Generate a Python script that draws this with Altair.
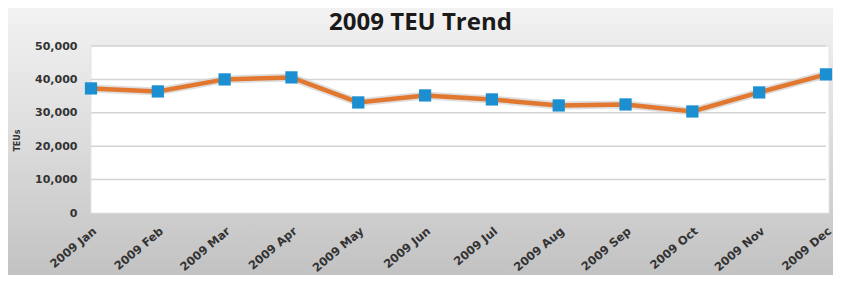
import altair as alt
import pandas as pd

months = ["2009 Jan", "2009 Feb", "2009 Mar", "2009 Apr", "2009 May", "2009 Jun",
          "2009 Jul", "2009 Aug", "2009 Sep", "2009 Oct", "2009 Nov", "2009 Dec"]
teu = [37300, 36400, 40000, 40600, 33100, 35200, 34000, 32200, 32500, 30400, 36100, 41500]
y_ticks = [0, 10000, 20000, 30000, 40000, 50000]

W, H = 735, 167
PL, PT, PR, PB = 83, 38, 7, 62

df = pd.DataFrame({"month": months, "teu": teu})
grid_df = pd.DataFrame({"teu": y_ticks[1:]})

x_axis = alt.Axis(title=None, labelAngle=-40, labelAlign="right",
                  labelBaseline="top", labelPadding=12,
                  labelFont="DejaVu Sans", labelFontWeight="bold",
                  labelFontSize=11.5, labelColor="#333333",
                  ticks=False, domain=False, grid=False, zindex=1)
y_axis = alt.Axis(title="TEUs", values=y_ticks,
                  labelExpr="format(datum.value, ',.0f')",
                  labelFont="DejaVu Sans", labelFontWeight="bold",
                  labelFontSize=11, labelColor="#333333",
                  labelPadding=14, ticks=False, domain=False, grid=False,
                  titleFont="DejaVu Sans", titleFontSize=8, titleFontWeight="bold",
                  titleColor="#333333", titleAngle=270,
                  titleX=-70, titleY=94, titleAlign="center", zindex=1)
x_enc = alt.X("month:N", sort=months,
              scale=alt.Scale(type="point", padding=0), axis=x_axis)
y_scale = alt.Scale(domain=[0, 50000], nice=False)
y_enc = alt.Y("teu:Q", scale=y_scale, axis=y_axis)

bg_grad = alt.Gradient(gradient="linear", x1=0, y1=0, x2=0, y2=1,
                       stops=[alt.GradientStop(color="#f2f2f2", offset=0),
                              alt.GradientStop(color="#dcdcdc", offset=0.5),
                              alt.GradientStop(color="#c2c2c2", offset=1)])

bg = alt.Chart(alt.Data(values=[{}])).mark_rect(fill=bg_grad).encode(
    x=alt.value(-PL), x2=alt.value(W + PR), y=alt.value(-PT), y2=alt.value(H + PB))
plot_bg = alt.Chart(alt.Data(values=[{}])).mark_rect(
    fill="white", stroke="#e4e4e4", strokeWidth=1).encode(
    x=alt.value(0), x2=alt.value(W + 3), y=alt.value(0), y2=alt.value(H))

base = alt.Chart(df)
shadow = base.mark_line(color="#bdbdbd", strokeWidth=8, opacity=0.5).encode(
    x=x_enc, y=y_enc)
grid = alt.Chart(grid_df).mark_rule(color="#d4d4d4", strokeWidth=1.5).encode(
    y=y_enc)
line = base.mark_line(color="#e2782f", strokeWidth=4.5).encode(x=x_enc, y=y_enc)
pts = base.mark_point(shape="square", filled=True, size=150, color="#1c8fd0",
                      opacity=1).encode(x=x_enc, y=y_enc)

chart = alt.layer(bg, plot_bg, shadow, grid, line, pts).properties(
    width=W, height=H,
    title=alt.TitleParams("2009 TEU Trend", font="Open Sans", fontSize=24,
                          fontWeight="bold", color="#1a1a1a", anchor="middle",
                          dx=-38, offset=-27),
    padding={"left": PL, "top": PT, "right": PR, "bottom": PB},
    autosize=alt.AutoSizeParams(type="none"),
    background="#d8d8d8",
).configure_view(stroke=None)

chart.save("out.html", embed_options={"renderer": "svg", "actions": False})
